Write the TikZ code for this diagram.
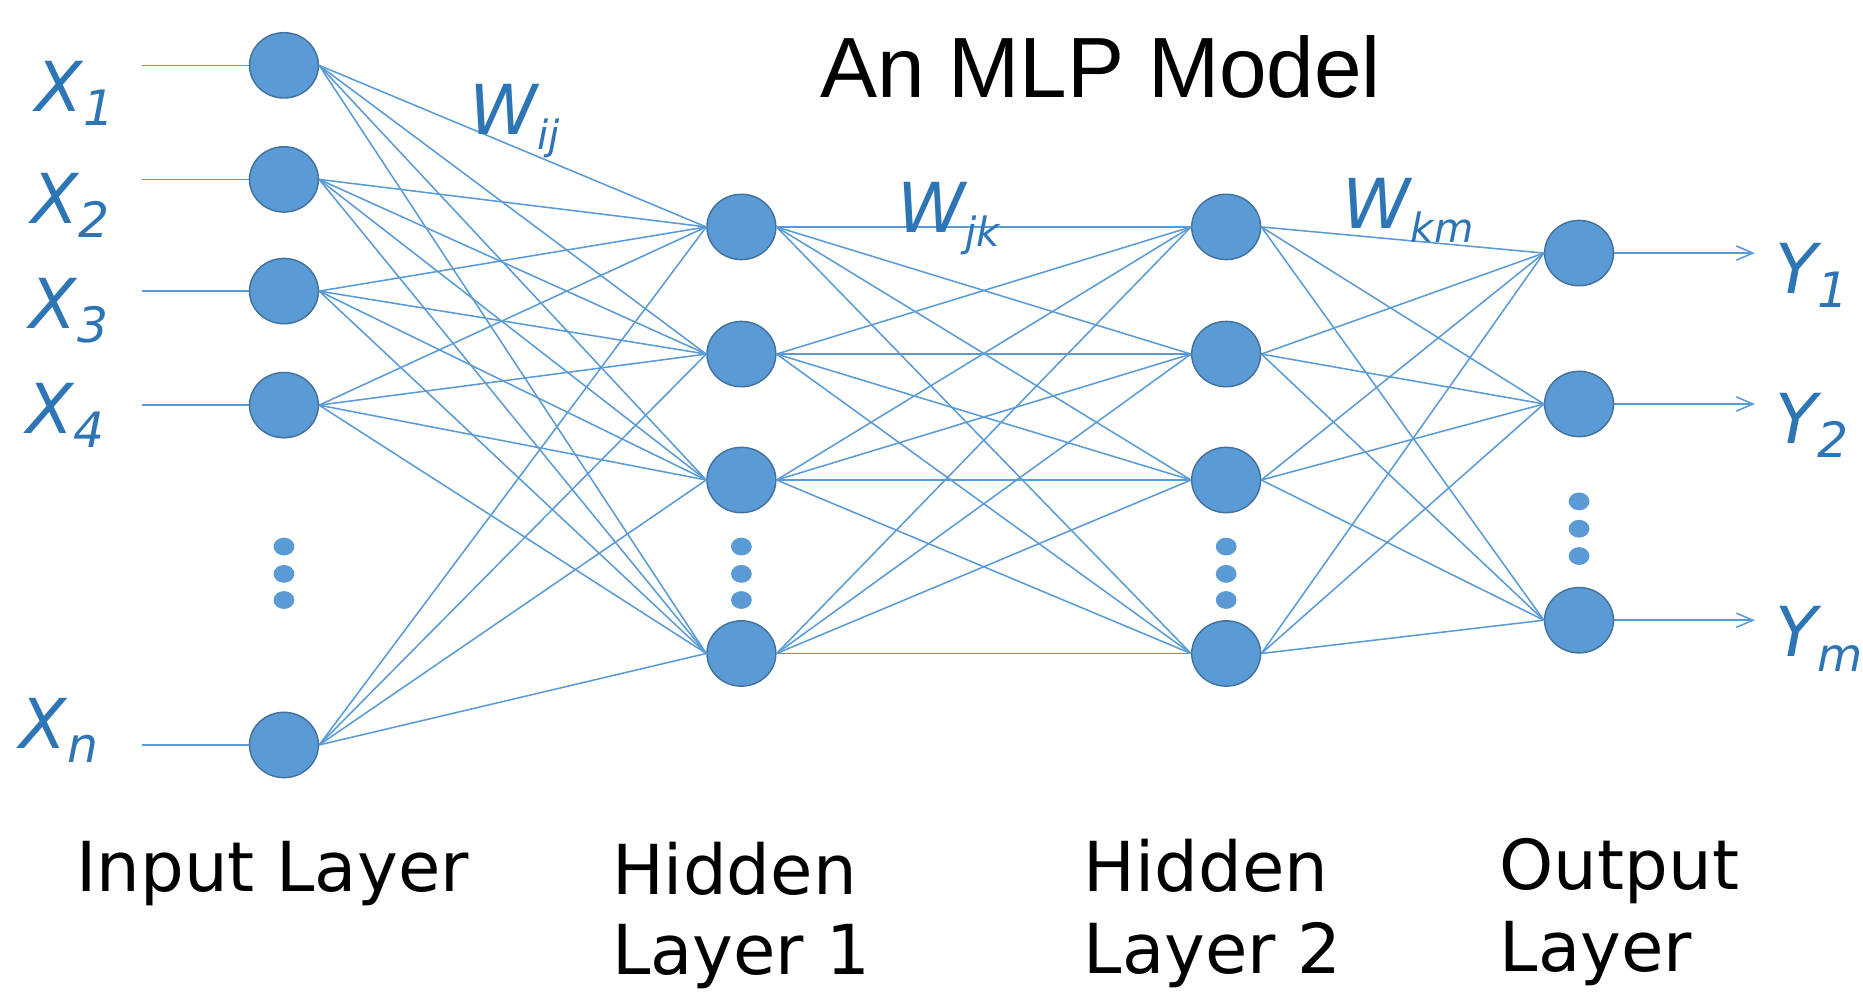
\documentclass[tikz,border=0pt]{standalone}
\usepackage{fontspec}
\setmainfont{DejaVu Sans}
\newfontfamily\varfont{DejaVu Sans Oblique}
\newfontfamily\titlefont{Liberation Sans}
\usetikzlibrary{shapes.geometric,arrows.meta}
\definecolor{nodefill}{HTML}{5B9BD5}
\definecolor{nodeline}{HTML}{41719C}
\definecolor{edgecol}{HTML}{5B9BD5}
\definecolor{labcol}{HTML}{2E75B6}
\newcommand{\lsub}[2][41]{\raisebox{-12pt}{\fontsize{#1}{#1}\selectfont #2}}
\begin{document}
\begin{tikzpicture}[x=1pt,y=-1pt,
  neuron/.style={ellipse, draw=nodeline, line width=1.2pt, fill=nodefill,
    minimum width=58pt, minimum height=55pt, inner sep=0pt},
  dotnode/.style={ellipse, fill=nodefill, minimum width=17.5pt,
    minimum height=15pt, inner sep=0pt},
  conn/.style={draw=edgecol, line width=1.3pt},
  outarrow/.style={conn, -{Straight Barb[length=14pt,width=12pt,line width=1.3pt]}},
  varlab/.style={anchor=base west, inner sep=0pt, text=labcol,
    font=\varfont\fontsize{58}{58}\selectfont},
  layerlab/.style={anchor=base west, inner sep=0pt,
    font=\fontsize{58}{70}\selectfont},
  titlelab/.style={anchor=base west, inner sep=0pt,
    font=\titlefont\fontsize{72}{72}\selectfont}
  ]
\useasboundingbox (0,0) rectangle (1568,835);

% input layer
\node[neuron] (i1) at (239,55) {};
\node[neuron] (i2) at (239,151) {};
\node[neuron] (i3) at (239,245) {};
\node[neuron] (i4) at (239,341) {};
\node[neuron] (i5) at (239,627) {};
\node[dotnode] (id1) at (239,460) {};
\node[dotnode] (id2) at (239,483) {};
\node[dotnode] (id3) at (239,505) {};

% hidden layer 1
\node[neuron] (h1) at (624,191) {};
\node[neuron] (h2) at (624,298) {};
\node[neuron] (h3) at (624,404) {};
\node[neuron] (h4) at (624,550) {};
\node[dotnode] (hd1) at (624,460) {};
\node[dotnode] (hd2) at (624,483) {};
\node[dotnode] (hd3) at (624,505) {};

% hidden layer 2
\node[neuron] (k1) at (1032,191) {};
\node[neuron] (k2) at (1032,298) {};
\node[neuron] (k3) at (1032,404) {};
\node[neuron] (k4) at (1032,550) {};
\node[dotnode] (kd1) at (1032,460) {};
\node[dotnode] (kd2) at (1032,483) {};
\node[dotnode] (kd3) at (1032,505) {};

% output layer
\node[neuron] (o1) at (1329,213) {};
\node[neuron] (o2) at (1329,340) {};
\node[neuron] (o3) at (1329,522) {};
\node[dotnode] (od1) at (1329,422) {};
\node[dotnode] (od2) at (1329,445) {};
\node[dotnode] (od3) at (1329,468) {};

% input lines
\foreach \n/\y in {1/55,2/151,3/245,4/341,5/627}{
  \coordinate (xin\n) at (119.5,\y);
  \draw[conn] (xin\n) -- (i\n.west);
}
% output arrows
\foreach \n/\y in {1/213,2/340,3/522}{
  \coordinate (yout\n) at (1477,\y);
  \draw[outarrow] (o\n.east) -- (yout\n);
}

% connections
\foreach \a in {1,...,5}
  \foreach \b in {1,...,4}
    \draw[conn] (i\a.east) -- (h\b.west);
\foreach \a in {1,...,4}
  \foreach \b in {1,...,4}
    \draw[conn] (h\a.east) -- (k\b.west);
\foreach \a in {1,...,4}
  \foreach \b in {1,...,3}
    \draw[conn] (k\a.east) -- (o\b.west);

% variable labels
\node[varlab] (lx1) at (30,94) {X\lsub{1}};
\node[varlab] (lx2) at (26,187.7) {X\lsub{2}};
\node[varlab] (lx3) at (25,276.4) {X\lsub{3}};
\node[varlab] (lx4) at (22,364.8) {X\lsub{4}};
\node[varlab] (lxn) at (16.5,630) {X\lsub{n}};
\node[varlab] (ly1) at (1494,247) {Y\lsub{1}};
\node[varlab] (ly2) at (1494,373) {Y\lsub{2}};
\node[varlab] (lym) at (1494,552.8) {Y\lsub[39]{m}};
\node[varlab] (lwij) at (395,113.6) {W\lsub[34]{ij}};
\node[varlab] (lwjk) at (755,195.7) {W\lsub[34]{jk}};
\node[varlab] (lwkm) at (1130,192.2) {W\lsub[34]{km}};

% title
\node[titlelab] (title) at (690,82) {An MLP Model};

% layer labels
\node[layerlab] (lin) at (64,750.5) {Input Layer};
\node[layerlab] (lh1a) at (515,753) {Hidden};
\node[layerlab] (lh1b) at (515,820) {Layer 1};
\node[layerlab] (lh2a) at (912,750.5) {Hidden};
\node[layerlab] (lh2b) at (912,819) {Layer 2};
\node[layerlab] (loa) at (1262,749) {Output};
\node[layerlab] (lob) at (1262,818) {Layer};
\end{tikzpicture}
\end{document}
